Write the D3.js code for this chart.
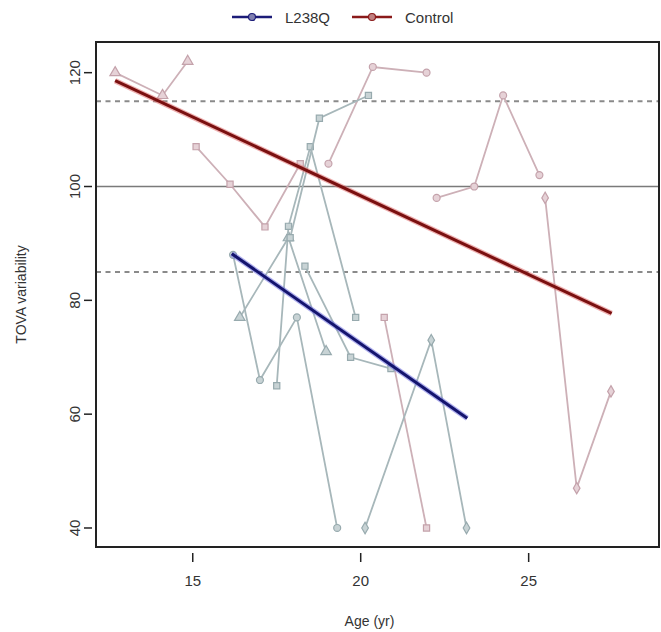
<!DOCTYPE html>
<html><head><meta charset="utf-8">
<script src="https://cdn.jsdelivr.net/npm/d3@7"></script>
<style>body{margin:0;background:#fff;} text{font-family:"Liberation Sans",Arial,sans-serif;fill:#333;}</style>
</head><body><svg id="c" width="661" height="632"></svg>
<script>
// ---- data ----
const groups = ["L238Q", "Control"];
const xTicks = [15, 20, 25];
const yTicks = [40, 60, 80, 100, 120];
const refValues = [115, 100, 85];
const refDashed = [true, false, true];

// L238Q subjects: [age, TOVA]
const l238qShapes = ["circle", "triangle", "square", "square", "square", "diamond"];
const l238qAges = [
  [16.2, 17.0, 18.1, 19.3],
  [16.4, 17.85, 18.97],
  [17.5, 17.85, 18.5, 19.85],
  [17.9, 18.77, 20.23],
  [18.34, 19.7, 20.9],
  [20.13, 22.1, 23.15]
];
const l238qValues = [
  [88, 66, 77, 40],
  [77, 91, 71],
  [65, 93, 107, 77],
  [91, 112, 116],
  [86, 70, 68],
  [40, 73, 40]
];
// Control subjects
const controlShapes = ["triangle", "square", "circle", "square", "circle", "diamond"];
const controlAges = [
  [12.69, 14.1, 14.85],
  [15.1, 16.11, 17.15, 18.2],
  [19.04, 20.36, 21.96],
  [20.7, 21.96],
  [22.26, 23.38, 24.24, 25.32],
  [25.49, 26.43, 27.45]
];
const controlValues = [
  [120, 116, 122],
  [107, 100.4, 92.9, 104],
  [104, 121, 120],
  [77, 40],
  [98, 100, 116, 102],
  [98, 47, 64]
];
// fitted regression lines: [start age, end age], [start value, end value]
const l238qFitAges = [16.16, 23.17];
const l238qFitValues = [88.2, 59.3];
const controlFitAges = [12.69, 27.47];
const controlFitValues = [118.6, 77.7];

// ---- chart ----
const svg = d3.select("#c");
const pL = 96, pR = 659, pT = 42, pB = 547;
const x = d3.scaleLinear().domain([12.12, 28.88]).range([pL, pR]);
const y = d3.scaleLinear().domain([36.66, 125.39]).range([pB, pT]);

const shapeMap = {circle: d3.symbolCircle, triangle: d3.symbolTriangle, square: d3.symbolSquare, diamond: d3.symbolDiamond};

// reference lines
refValues.forEach((v, i) => {
  svg.append("line").attr("x1", pL).attr("x2", pR).attr("y1", y(v)).attr("y2", y(v))
    .attr("stroke", refDashed[i] ? "#8a8a8a" : "#7a7a7a")
    .attr("stroke-width", refDashed[i] ? 2 : 1.6)
    .attr("stroke-dasharray", refDashed[i] ? "5,4.5" : null);
});

const line = d3.line().x(d => x(d[0])).y(d => y(d[1]));

function drawSubjects(ages, values, shapes, lineColor, markColor, markStroke) {
  ages.forEach((a, i) => {
    const pts = a.map((ag, j) => [ag, values[i][j]]);
    svg.append("path").attr("d", line(pts)).attr("fill", "none")
      .attr("stroke", lineColor).attr("stroke-width", 1.8);
    pts.forEach(p => {
      svg.append("path").attr("d", d3.symbol().type(shapeMap[shapes[i]]).size(shapes[i] === "triangle" ? 48 : 38)())
        .attr("transform", `translate(${x(p[0])},${y(p[1])})`)
        .attr("fill", markColor).attr("stroke", markStroke).attr("stroke-width", 1.2);
    });
  });
}
drawSubjects(controlAges, controlValues, controlShapes, "#cdb0b7", "#e6d2d7", "#c4a2ab");
drawSubjects(l238qAges, l238qValues, l238qShapes, "#a7b7ba", "#c8d3d5", "#97aaae");

// regression lines
function fitLine(ages, vals, halo, core) {
  const pts = ages.map((a, i) => [a, vals[i]]);
  svg.append("path").attr("d", line(pts)).attr("stroke", halo).attr("stroke-width", 5.5)
    .attr("stroke-opacity", 0.55).attr("fill", "none");
  svg.append("path").attr("d", line(pts)).attr("stroke", core).attr("stroke-width", 3)
    .attr("fill", "none");
}
fitLine(controlFitAges, controlFitValues, "#e07070", "#7a1010");
fitLine(l238qFitAges, l238qFitValues, "#7070e0", "#14146e");

// box
svg.append("rect").attr("x", pL).attr("y", pT).attr("width", pR - pL).attr("height", pB - pT)
  .attr("fill", "none").attr("stroke", "#222").attr("stroke-width", 2);

// x axis ticks
xTicks.forEach(t => {
  svg.append("line").attr("x1", x(t)).attr("x2", x(t)).attr("y1", pB + 6).attr("y2", pB + 15)
    .attr("stroke", "#222").attr("stroke-width", 1.5);
  svg.append("text").attr("x", x(t)).attr("y", 586).attr("text-anchor", "middle")
    .attr("font-size", 15).text(t);
});
svg.append("text").attr("x", (pL + pR) / 2 - 8).attr("y", 626).attr("text-anchor", "middle")
  .attr("font-size", 14).text("Age (yr)");

// y axis ticks
yTicks.forEach(t => {
  svg.append("line").attr("x1", pL - 12).attr("x2", pL - 4).attr("y1", y(t)).attr("y2", y(t))
    .attr("stroke", "#222").attr("stroke-width", 1.5);
  svg.append("text").attr("transform", `translate(${pL - 16},${y(t)}) rotate(-90)`)
    .attr("text-anchor", "middle").attr("font-size", 15).text(t);
});
svg.append("text").attr("transform", `translate(26,${(pT + pB) / 2}) rotate(-90)`)
  .attr("text-anchor", "middle").attr("font-size", 14).text("TOVA variability");

// legend
const legColors = ["#1c1c78", "#8a1a1a"];
const legX = [232, 352];
groups.forEach((g, i) => {
  const lx = legX[i];
  svg.append("line").attr("x1", lx).attr("x2", lx + 40).attr("y1", 17).attr("y2", 17)
    .attr("stroke", legColors[i]).attr("stroke-width", 2.5);
  svg.append("circle").attr("cx", lx + 20).attr("cy", 17).attr("r", 3.5)
    .attr("fill", i === 0 ? "#8080b0" : "#c08080").attr("stroke", legColors[i]).attr("stroke-width", 1.2);
  svg.append("text").attr("x", lx + 53).attr("y", 22.5).attr("font-size", 15).text(g);
});
</script></body></html>
